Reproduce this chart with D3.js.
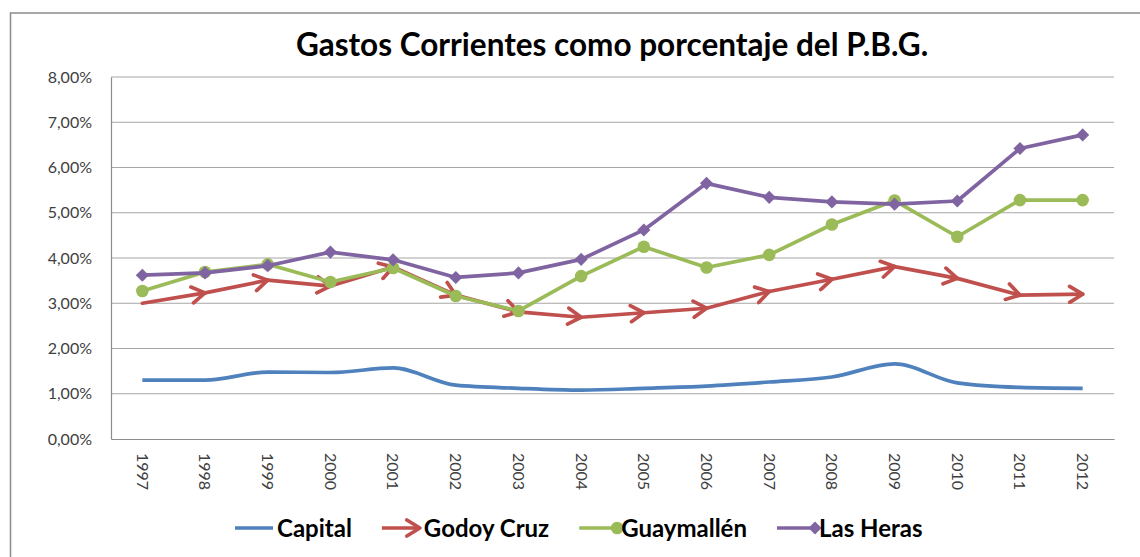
<!DOCTYPE html>
<html>
<head>
<meta charset="utf-8">
<script src="https://cdn.jsdelivr.net/npm/d3@7"></script>
<style>
  body { margin: 0; background: #fff; }
  svg { display: block; font-family: Lato, "Open Sans", sans-serif; }
</style>
</head>
<body>
<div id="chart"></div>
<script>
const years = ["1997", "1998", "1999", "2000", "2001", "2002", "2003", "2004",
               "2005", "2006", "2007", "2008", "2009", "2010", "2011", "2012"];
const capital    = [1.30, 1.30, 1.48, 1.47, 1.57, 1.19, 1.12, 1.08, 1.12, 1.17, 1.26, 1.37, 1.66, 1.24, 1.14, 1.12];
const godoyCruz  = [3.00, 3.23, 3.51, 3.38, 3.80, 3.18, 2.81, 2.69, 2.79, 2.89, 3.26, 3.53, 3.81, 3.55, 3.18, 3.20];
const guaymallen = [3.27, 3.69, 3.86, 3.47, 3.78, 3.16, 2.83, 3.60, 4.25, 3.79, 4.07, 4.74, 5.27, 4.47, 5.28, 5.28];
const lasHeras   = [3.62, 3.67, 3.83, 4.13, 3.96, 3.57, 3.67, 3.97, 4.62, 5.65, 5.34, 5.24, 5.19, 5.26, 6.42, 6.72];
const yTicks = [0, 1, 2, 3, 4, 5, 6, 7, 8];
const seriesNames = ["Capital", "Godoy Cruz", "Guaymallén", "Las Heras"];
const titleText = "Gastos Corrientes como porcentaje del P.B.G.";

const width = 1140, height = 557;
const plot = { left: 111, right: 1114, top: 77, bottom: 439 };
const colors = ["#4F81BD", "#C0504D", "#9BBB59", "#8064A2"];
const markers = ["none", "arrow", "circle", "diamond"];

const series = seriesNames.map((name, i) => ({
    name: name,
    color: colors[i],
    marker: markers[i],
    values: [capital, godoyCruz, guaymallen, lasHeras][i]
}));

const svg = d3.select("#chart").append("svg")
    .attr("width", width).attr("height", height);

// arrow head used by Godoy Cruz
svg.append("defs").append("marker")
    .attr("id", "arrowHead")
    .attr("markerUnits", "userSpaceOnUse")
    .attr("viewBox", "-16 -10 18 20")
    .attr("refX", 0).attr("refY", 0)
    .attr("markerWidth", 18).attr("markerHeight", 20)
    .attr("orient", "auto")
    .append("path")
        .attr("d", "M-13,-8 L0,0 L-13,8")
        .attr("fill", "none")
        .attr("stroke", colors[1])
        .attr("stroke-width", 3.7)
        .attr("stroke-linecap", "round")
        .attr("stroke-linejoin", "round");

// chart border (top and left edges visible)
svg.append("rect")
    .attr("x", 10.5).attr("y", 13)
    .attr("width", 1200).attr("height", 600)
    .attr("fill", "none").attr("stroke", "#8c8c8c").attr("stroke-width", 1.5);

svg.append("text")
    .attr("x", 612).attr("y", 56)
    .attr("text-anchor", "middle")
    .attr("font-size", 31.5).attr("font-weight", "bold")
    .attr("fill", "#000")
    .text(titleText);

const x = d3.scaleBand().domain(years).range([plot.left, plot.right]);
const y = d3.scaleLinear().domain([0, 8]).range([plot.bottom, plot.top]);
const cx = (d) => x(d) + x.bandwidth() / 2;

const fmt = d3.formatLocale({ decimal: ",", thousands: ".", grouping: [3], currency: ["$", ""] }).format(".2f");

// gridlines
svg.append("g").selectAll("line")
    .data(yTicks.filter((t) => t > 0))
    .join("line")
        .attr("x1", plot.left).attr("x2", plot.right)
        .attr("y1", (d) => y(d)).attr("y2", (d) => y(d))
        .attr("stroke", "#a6a6a6").attr("stroke-width", 1.2);

// y axis
const yAxis = svg.append("g")
    .attr("transform", `translate(${plot.left},0)`)
    .call(d3.axisLeft(y).tickValues(yTicks).tickSize(0).tickPadding(19)
        .tickFormat((d) => fmt(d) + "%"));
yAxis.select(".domain").attr("stroke", "#8c8c8c").attr("stroke-width", 1.2);
yAxis.selectAll("text").attr("font-size", 16).attr("fill", "#404040")
    .attr("font-family", "Lato, sans-serif");

// x axis
const xAxis = svg.append("g")
    .attr("transform", `translate(0,${plot.bottom})`)
    .call(d3.axisBottom(x).tickSize(0));
xAxis.select(".domain").attr("stroke", "#8c8c8c").attr("stroke-width", 1.2);
xAxis.selectAll("text")
    .attr("font-size", 16).attr("fill", "#404040")
    .attr("font-family", "Lato, sans-serif")
    .attr("text-anchor", "start")
    .attr("transform", "rotate(90)")
    .attr("x", 14).attr("y", 0).attr("dy", "0.35em");

// series lines
series.forEach((s, si) => {
    const g = svg.append("g");
    const pts = s.values.map((v, i) => [cx(years[i]), y(v)]);
    if (s.marker === "arrow") {
        g.selectAll("line")
            .data(d3.pairs(pts))
            .join("line")
                .attr("x1", (d) => d[0][0]).attr("y1", (d) => d[0][1])
                .attr("x2", (d) => d[1][0]).attr("y2", (d) => d[1][1])
                .attr("stroke", s.color).attr("stroke-width", 3.7)
                .attr("stroke-linecap", "round")
                .attr("marker-end", "url(#arrowHead)");
        return;
    }
    const line = d3.line()
        .x((d) => d[0]).y((d) => d[1])
        .curve(si === 0 ? d3.curveMonotoneX : d3.curveLinear);
    g.append("path")
        .attr("d", line(pts))
        .attr("fill", "none")
        .attr("stroke", s.color).attr("stroke-width", 3.7)
        .attr("stroke-linejoin", "round");
    if (s.marker === "circle") {
        g.selectAll("circle").data(pts).join("circle")
            .attr("cx", (d) => d[0]).attr("cy", (d) => d[1])
            .attr("r", 6.3).attr("fill", s.color);
    } else if (s.marker === "diamond") {
        g.selectAll("path.pt").data(pts).join("path")
            .attr("class", "pt")
            .attr("d", d3.symbol(d3.symbolDiamond2, 110)())
            .attr("transform", (d) => `translate(${d[0]},${d[1]})`)
            .attr("fill", s.color);
    }
});

// legend
const legend = svg.append("g").attr("transform", "translate(0,528)");
let lx = 235;
series.forEach((s) => {
    const item = legend.append("g").attr("transform", `translate(${lx},0)`);
    item.append("line").attr("x1", 0).attr("x2", 38).attr("y1", 0).attr("y2", 0)
        .attr("stroke", s.color).attr("stroke-width", 3.7)
        .attr("marker-end", s.marker === "arrow" ? "url(#arrowHead)" : null);
    if (s.marker === "circle") {
        item.append("circle").attr("cx", 38).attr("cy", 0).attr("r", 6.3).attr("fill", s.color);
    } else if (s.marker === "diamond") {
        item.append("path").attr("d", d3.symbol(d3.symbolDiamond2, 110)())
            .attr("transform", "translate(38,0)").attr("fill", s.color);
    }
    const t = item.append("text")
        .attr("x", 42).attr("y", 0).attr("dy", "0.36em")
        .attr("font-size", 24).attr("font-weight", "bold").attr("fill", "#000")
        .text(s.name);
    lx += 42 + t.node().getComputedTextLength() + 30;
});
</script>
</body>
</html>
